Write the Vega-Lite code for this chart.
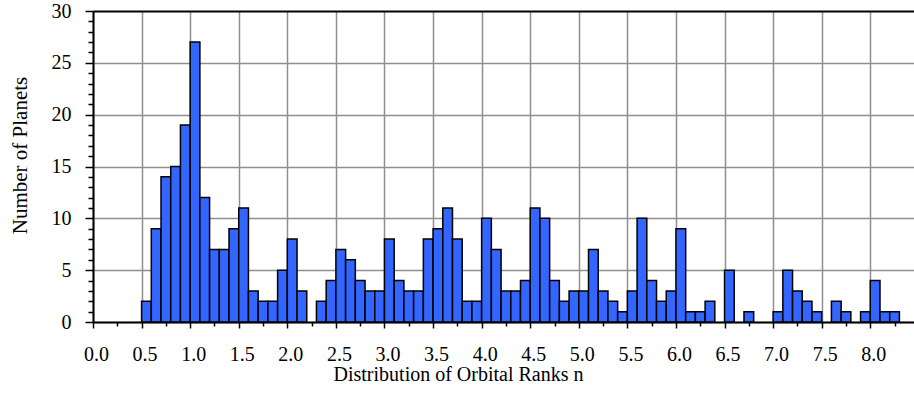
{
  "$schema": "https://vega.github.io/schema/vega-lite/v6.json",
  "autosize": "none",
  "width": 821,
  "height": 311,
  "padding": {"left": 93, "top": 11, "right": 0, "bottom": 74},
  "background": "white",
  "config": {
    "view": {"stroke": null},
    "font": "Liberation Serif"
  },
  "data": {
    "values": [
      {"lo": 0.5, "hi": 0.6, "count": 2},
      {"lo": 0.6, "hi": 0.7, "count": 9},
      {"lo": 0.7, "hi": 0.8, "count": 14},
      {"lo": 0.8, "hi": 0.9, "count": 15},
      {"lo": 0.9, "hi": 1.0, "count": 19},
      {"lo": 1.0, "hi": 1.1, "count": 27},
      {"lo": 1.1, "hi": 1.2, "count": 12},
      {"lo": 1.2, "hi": 1.3, "count": 7},
      {"lo": 1.3, "hi": 1.4, "count": 7},
      {"lo": 1.4, "hi": 1.5, "count": 9},
      {"lo": 1.5, "hi": 1.6, "count": 11},
      {"lo": 1.6, "hi": 1.7, "count": 3},
      {"lo": 1.7, "hi": 1.8, "count": 2},
      {"lo": 1.8, "hi": 1.9, "count": 2},
      {"lo": 1.9, "hi": 2.0, "count": 5},
      {"lo": 2.0, "hi": 2.1, "count": 8},
      {"lo": 2.1, "hi": 2.2, "count": 3},
      {"lo": 2.3, "hi": 2.4, "count": 2},
      {"lo": 2.4, "hi": 2.5, "count": 4},
      {"lo": 2.5, "hi": 2.6, "count": 7},
      {"lo": 2.6, "hi": 2.7, "count": 6},
      {"lo": 2.7, "hi": 2.8, "count": 4},
      {"lo": 2.8, "hi": 2.9, "count": 3},
      {"lo": 2.9, "hi": 3.0, "count": 3},
      {"lo": 3.0, "hi": 3.1, "count": 8},
      {"lo": 3.1, "hi": 3.2, "count": 4},
      {"lo": 3.2, "hi": 3.3, "count": 3},
      {"lo": 3.3, "hi": 3.4, "count": 3},
      {"lo": 3.4, "hi": 3.5, "count": 8},
      {"lo": 3.5, "hi": 3.6, "count": 9},
      {"lo": 3.6, "hi": 3.7, "count": 11},
      {"lo": 3.7, "hi": 3.8, "count": 8},
      {"lo": 3.8, "hi": 3.9, "count": 2},
      {"lo": 3.9, "hi": 4.0, "count": 2},
      {"lo": 4.0, "hi": 4.1, "count": 10},
      {"lo": 4.1, "hi": 4.2, "count": 7},
      {"lo": 4.2, "hi": 4.3, "count": 3},
      {"lo": 4.3, "hi": 4.4, "count": 3},
      {"lo": 4.4, "hi": 4.5, "count": 4},
      {"lo": 4.5, "hi": 4.6, "count": 11},
      {"lo": 4.6, "hi": 4.7, "count": 10},
      {"lo": 4.7, "hi": 4.8, "count": 4},
      {"lo": 4.8, "hi": 4.9, "count": 2},
      {"lo": 4.9, "hi": 5.0, "count": 3},
      {"lo": 5.0, "hi": 5.1, "count": 3},
      {"lo": 5.1, "hi": 5.2, "count": 7},
      {"lo": 5.2, "hi": 5.3, "count": 3},
      {"lo": 5.3, "hi": 5.4, "count": 2},
      {"lo": 5.4, "hi": 5.5, "count": 1},
      {"lo": 5.5, "hi": 5.6, "count": 3},
      {"lo": 5.6, "hi": 5.7, "count": 10},
      {"lo": 5.7, "hi": 5.8, "count": 4},
      {"lo": 5.8, "hi": 5.9, "count": 2},
      {"lo": 5.9, "hi": 6.0, "count": 3},
      {"lo": 6.0, "hi": 6.1, "count": 9},
      {"lo": 6.1, "hi": 6.2, "count": 1},
      {"lo": 6.2, "hi": 6.3, "count": 1},
      {"lo": 6.3, "hi": 6.4, "count": 2},
      {"lo": 6.5, "hi": 6.6, "count": 5},
      {"lo": 6.7, "hi": 6.8, "count": 1},
      {"lo": 7.0, "hi": 7.1, "count": 1},
      {"lo": 7.1, "hi": 7.2, "count": 5},
      {"lo": 7.2, "hi": 7.3, "count": 3},
      {"lo": 7.3, "hi": 7.4, "count": 2},
      {"lo": 7.4, "hi": 7.5, "count": 1},
      {"lo": 7.6, "hi": 7.7, "count": 2},
      {"lo": 7.7, "hi": 7.8, "count": 1},
      {"lo": 7.9, "hi": 8.0, "count": 1},
      {"lo": 8.0, "hi": 8.1, "count": 4},
      {"lo": 8.1, "hi": 8.2, "count": 1},
      {"lo": 8.2, "hi": 8.3, "count": 1}
    ]
  },
  "mark": {"type": "bar", "fill": "#3366FF", "stroke": "black", "strokeWidth": 1.5},
  "encoding": {
    "x": {
      "field": "lo",
      "type": "quantitative",
      "scale": {"domain": [0, 8.45], "nice": false, "zero": false},
      "axis": {
        "title": "Distribution of Orbital Ranks n",
        "titleFont": "Liberation Serif",
        "titleFontSize": 20,
        "titleFontWeight": "normal",
        "titleColor": "black",
        "titlePadding": 0,
        "titleX": 365,
        "values": [0, 0.25, 0.5, 0.75, 1, 1.25, 1.5, 1.75, 2, 2.25, 2.5, 2.75, 3, 3.25, 3.5, 3.75, 4, 4.25, 4.5, 4.75, 5, 5.25, 5.5, 5.75, 6, 6.25, 6.5, 6.75, 7, 7.25, 7.5, 7.75, 8, 8.25],
        "labelExpr": "round(datum.value * 4) % 2 === 0 ? format(datum.value, '.1f') : ''",
        "labelOverlap": false,
        "labelFont": "Liberation Serif",
        "labelFontSize": 20,
        "labelColor": "black",
        "labelPadding": 16,
        "labelOffset": 3,
        "labelFlush": false,
        "domainColor": "black",
        "domainWidth": 2,
        "tickColor": "black",
        "tickWidth": 1.5,
        "tickSize": {"condition": {"test": "round(datum.value * 4) % 2 === 0", "value": 6}, "value": 4},
        "grid": true,
        "gridColor": "#8f8f8f",
        "gridWidth": 1.5,
        "gridOpacity": {"condition": {"test": "round(datum.value * 4) % 2 === 0", "value": 1}, "value": 0}
      }
    },
    "x2": {"field": "hi"},
    "y": {
      "field": "count",
      "type": "quantitative",
      "scale": {"domain": [0, 30], "nice": false},
      "axis": {
        "title": "Number of Planets",
        "titleFont": "Liberation Serif",
        "titleFontSize": 21,
        "titleFontWeight": "normal",
        "titleColor": "black",
        "titlePadding": 21,
        "titleY": 144,
        "values": [0, 1, 2, 3, 4, 5, 6, 7, 8, 9, 10, 11, 12, 13, 14, 15, 16, 17, 18, 19, 20, 21, 22, 23, 24, 25, 26, 27, 28, 29, 30],
        "labelExpr": "datum.value % 5 === 0 ? datum.label : ''",
        "labelOverlap": false,
        "labelFont": "Liberation Serif",
        "labelFontSize": 20,
        "labelColor": "black",
        "labelPadding": 14,
        "labelFlush": false,
        "domainColor": "black",
        "domainWidth": 2,
        "tickColor": "black",
        "tickWidth": 1.5,
        "tickSize": {"condition": {"test": "datum.value % 5 === 0", "value": 8}, "value": 5},
        "grid": true,
        "gridColor": {"condition": {"test": "datum.value === 30", "value": "black"}, "value": "#8f8f8f"},
        "gridWidth": {"condition": {"test": "datum.value === 30", "value": 2}, "value": 1.5},
        "gridOpacity": {"condition": {"test": "datum.value % 5 === 0", "value": 1}, "value": 0}
      }
    },
    "y2": {"datum": 0}
  }
}
